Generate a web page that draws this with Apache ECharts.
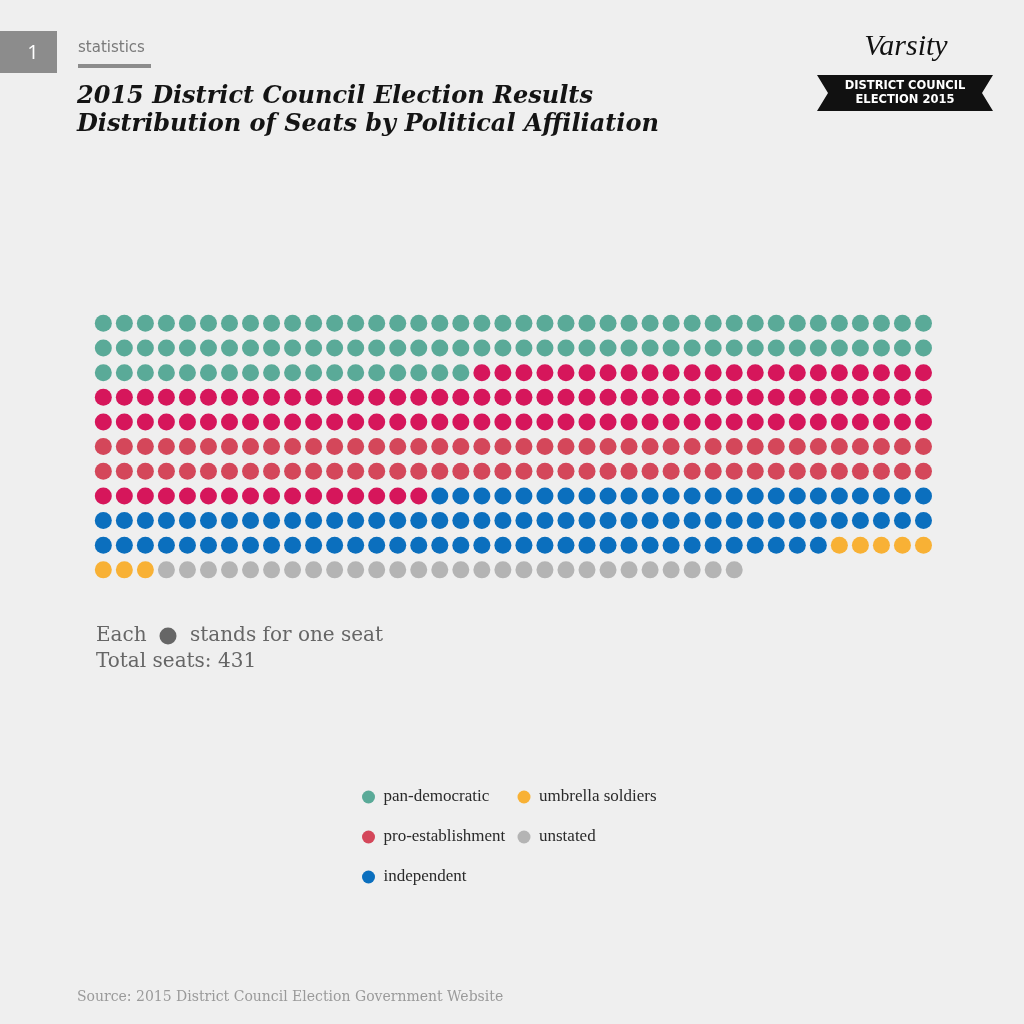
<!DOCTYPE html>
<html>
<head>
<meta charset="utf-8">
<script src="https://cdn.jsdelivr.net/npm/echarts@6/dist/echarts.min.js"></script>
<style>
  html, body { margin: 0; padding: 0; background: #efefef; }
  #chart { width: 1024px; height: 1024px; }
</style>
</head>
<body>
<div id="chart"></div>
<script>
// seats per affiliation, in the order they fill the grid
const parties = ['pan-democratic', 'pro-establishment', 'independent', 'umbrella soldiers', 'unstated'];
const seatCounts = [98, 198, 99, 8, 28];
const legendOrder = ['pan-democratic', 'umbrella soldiers', 'pro-establishment', 'unstated', 'independent'];
const seatsPerRow = 40;

const partyColors = {
    'pan-democratic': '#5aaa98',
    'pro-establishment': '#d4475a',
    'independent': '#0b6fbe',
    'umbrella soldiers': '#f8b135',
    'unstated': '#b4b4b4'
};
// the pro-establishment block alternates between two shades of red by row
const proEstDarkColor = '#d6165b';
const proEstLightRows = [5, 6];

const totalSeats = seatCounts.reduce((a, b) => a + b, 0);
const rowCount = Math.ceil(totalSeats / seatsPerRow);

const buildSeries = () => {
    let seat = 0;
    return parties.map((name, i) => {
        const data = [];
        for (let k = 0; k < seatCounts[i]; k++) {
            const col = seat % seatsPerRow;
            const row = Math.floor(seat / seatsPerRow);
            const point = { value: [col, row] };
            if (name === 'pro-establishment' && proEstLightRows.indexOf(row) === -1) {
                point.itemStyle = { color: proEstDarkColor };
            }
            data.push(point);
            seat++;
        }
        return {
            name: name,
            type: 'scatter',
            symbol: 'circle',
            symbolSize: 17,
            itemStyle: { color: partyColors[name], opacity: 1 },
            emphasis: { disabled: true },
            silent: true,
            data: data
        };
    });
};

const serif = '"DejaVu Serif", serif';
const textEl = (text, x, y, font, fill, align) => ({
    type: 'text',
    x: x,
    y: y,
    silent: true,
    style: {
        text: text,
        font: font,
        fill: fill,
        textAlign: align || 'left',
        textVerticalAlign: 'middle'
    }
});

const option = {
    backgroundColor: '#efefef',
    animation: false,
    grid: { left: 92.8, top: 311, width: 841.2, height: 271.2 },
    xAxis: {
        type: 'value', min: -0.5, max: seatsPerRow - 0.5, show: false
    },
    yAxis: {
        type: 'value', min: -0.5, max: rowCount - 0.5, inverse: true, show: false
    },
    legend: {
        left: 357,
        top: 778,
        width: 320,
        icon: 'circle',
        itemWidth: 20,
        itemHeight: 13,
        itemGap: 12,
        selectedMode: false,
        textStyle: {
            fontFamily: '"Liberation Serif", serif',
            fontSize: 17,
            color: '#2a2a2a',
            width: 122,
            lineHeight: 28
        },
        data: legendOrder
    },
    graphic: [
        { type: 'rect', silent: true, shape: { x: 0, y: 31, width: 57, height: 42 }, style: { fill: '#8c8c8c' } },
        textEl('1', 33, 53, '20px "Open Sans", sans-serif', '#ffffff', 'center'),
        textEl('statistics', 78, 48, '15px "DejaVu Sans", sans-serif', '#7a7a7a'),
        { type: 'rect', silent: true, shape: { x: 78, y: 64, width: 73, height: 4 }, style: { fill: '#8c8c8c' } },
        textEl('2015 District Council Election Results', 77, 97, 'italic bold 24px ' + serif, '#141414'),
        textEl('Distribution of Seats by Political Affiliation', 77, 125, 'italic bold 24px ' + serif, '#141414'),
        textEl('Varsity', 906, 47, 'italic 30px "Liberation Serif", serif', '#111111', 'center'),
        {
            type: 'polygon', silent: true,
            shape: { points: [[817, 75], [993, 75], [982, 93], [993, 111], [817, 111], [828, 93]] },
            style: { fill: '#111111' }
        },
        textEl('DISTRICT COUNCIL', 905, 86, 'bold 11.5px "DejaVu Sans", sans-serif', '#ffffff', 'center'),
        textEl('ELECTION 2015', 905, 100, 'bold 11.5px "DejaVu Sans", sans-serif', '#ffffff', 'center'),
        textEl('Each', 96, 636, '20px ' + serif, '#666666'),
        { type: 'circle', silent: true, shape: { cx: 168, cy: 636, r: 8.5 }, style: { fill: '#666666' } },
        textEl('stands for one seat', 190, 636, '20px ' + serif, '#666666'),
        textEl('Total seats: ' + totalSeats, 96, 662, '20px ' + serif, '#666666'),
        textEl('Source: 2015 District Council Election Government Website', 77, 997, '14px ' + serif, '#9a9a9a')
    ],
    series: buildSeries()
};

const chart = echarts.init(document.getElementById('chart'));
chart.setOption(option);
</script>
</body>
</html>
